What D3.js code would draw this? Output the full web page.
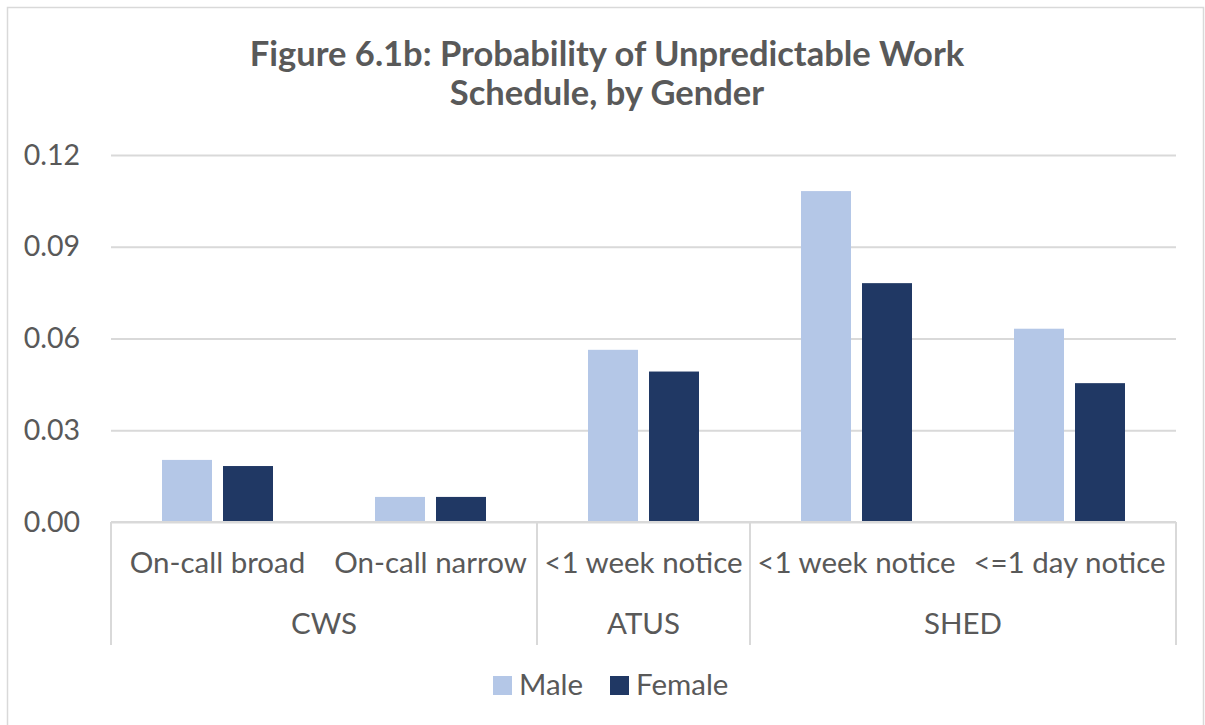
<!DOCTYPE html>
<html>
<head>
    <meta charset="utf-8">
    <script src="https://cdn.jsdelivr.net/npm/d3@7"></script>
    <title>Figure 6.1b</title>
    <style>
        body { margin: 0; background: #fff; }
        text { font-family: Lato, "Open Sans", sans-serif; fill: #595959; }
    </style>
</head>
<body>
    <div id="chart"></div>
    <script>
        // DATA
        var surveys = ["CWS", "CWS", "ATUS", "SHED", "SHED"];
        var measures = ["On-call broad", "On-call narrow", "<1 week notice", "<1 week notice", "<=1 day notice"];
        var series = ["Male", "Female"];
        var male = [0.0203, 0.0082, 0.0563, 0.1082, 0.0632];
        var female = [0.0183, 0.0082, 0.0492, 0.0781, 0.0454];
        var yTicks = [0, 0.03, 0.06, 0.09, 0.12];
        var titleLines = ["Figure 6.1b: Probability of Unpredictable Work", "Schedule, by Gender"];

        var colors = { Male: "#B4C7E7", Female: "#203864" };
        var gridColor = "#D9D9D9";

        var W = 1205, H = 725;
        var plot = { left: 111, right: 1176, top: 155, bottom: 522 };
        var labelSize = "29.5px";

        var svg = d3.select("#chart").append("svg")
            .attr("width", W)
            .attr("height", H);

        // chart area border
        svg.append("rect")
            .attr("x", 7.5).attr("y", 7.5)
            .attr("width", 1196).attr("height", 730)
            .attr("fill", "#fff")
            .attr("stroke", gridColor)
            .attr("stroke-width", 1.5);

        // title
        svg.selectAll(".title")
            .data(titleLines)
            .enter().append("text")
            .attr("class", "title")
            .attr("x", 607)
            .attr("y", function (d, i) { return 66 + i * 39; })
            .attr("text-anchor", "middle")
            .style("font-size", "34.5px")
            .style("font-weight", "bold")
            .text(function (d) { return d; });

        var rows = measures.map(function (m, i) {
            return { key: i, measure: m, survey: surveys[i], Male: male[i], Female: female[i] };
        });

        var x0 = d3.scaleBand()
            .domain(rows.map(function (d) { return d.key; }))
            .range([plot.left, plot.right]);

        var x1 = d3.scaleBand()
            .domain(series)
            .range([0, 111])
            .paddingInner(11 / 61);

        var y = d3.scaleLinear()
            .domain([0, 0.12])
            .range([plot.bottom, plot.top]);

        // gridlines + y labels
        var yAxis = d3.axisLeft(y)
            .tickValues(yTicks)
            .tickFormat(d3.format(".2f"))
            .tickSize(-(plot.right - plot.left))
            .tickPadding(31);

        var gy = svg.append("g")
            .attr("transform", "translate(" + plot.left + ",0)")
            .call(yAxis);
        gy.select(".domain").remove();
        gy.selectAll("line").attr("stroke", gridColor).attr("stroke-width", 2);
        gy.selectAll("text")
            .attr("fill", "#595959")
            .style("font-family", "Lato, sans-serif")
            .style("font-size", "28.5px");

        // bars
        var offset = (x0.bandwidth() - 111) / 2;
        var groups = svg.selectAll(".grp")
            .data(rows)
            .enter().append("g")
            .attr("transform", function (d) { return "translate(" + (x0(d.key) + offset) + ",0)"; });

        groups.selectAll("rect")
            .data(function (d) { return series.map(function (s) { return { s: s, v: d[s] }; }); })
            .enter().append("rect")
            .attr("x", function (d) { return x1(d.s); })
            .attr("width", x1.bandwidth())
            .attr("y", function (d) { return y(d.v); })
            .attr("height", function (d) { return y(0) - y(d.v); })
            .attr("fill", function (d) { return colors[d.s]; });

        // category axis (two levels)
        var axisBottom = 645;
        svg.append("line")
            .attr("x1", plot.left).attr("x2", plot.right)
            .attr("y1", y(0)).attr("y2", y(0))
            .attr("stroke", gridColor).attr("stroke-width", 2);

        var groupNames = [];
        surveys.forEach(function (s) { if (groupNames.indexOf(s) < 0) groupNames.push(s); });
        var groupSpans = groupNames.map(function (g) {
            var idx = rows.filter(function (r) { return r.survey === g; }).map(function (r) { return r.key; });
            return { name: g, x0: x0(d3.min(idx)), x1: x0(d3.max(idx)) + x0.bandwidth() };
        });

        var dividers = [plot.left].concat(groupSpans.map(function (g) { return g.x1; }));
        svg.selectAll(".divider")
            .data(dividers)
            .enter().append("line")
            .attr("x1", function (d) { return d; }).attr("x2", function (d) { return d; })
            .attr("y1", y(0)).attr("y2", axisBottom)
            .attr("stroke", gridColor).attr("stroke-width", 2);

        svg.selectAll(".measure")
            .data(rows)
            .enter().append("text")
            .attr("x", function (d) { return x0(d.key) + x0.bandwidth() / 2; })
            .attr("y", 573)
            .attr("text-anchor", "middle")
            .style("font-size", labelSize)
            .text(function (d) { return d.measure; });

        svg.selectAll(".survey")
            .data(groupSpans)
            .enter().append("text")
            .attr("x", function (d) { return (d.x0 + d.x1) / 2; })
            .attr("y", 634)
            .attr("text-anchor", "middle")
            .style("font-size", labelSize)
            .text(function (d) { return d.name; });

        // legend
        var legendX = [493, 610];
        var legend = svg.selectAll(".legend")
            .data(series)
            .enter().append("g")
            .attr("transform", function (d, i) { return "translate(" + legendX[i] + ",676)"; });
        legend.append("rect")
            .attr("width", 19).attr("height", 19)
            .attr("fill", function (d) { return colors[d]; });
        legend.append("text")
            .attr("x", 26).attr("y", 19)
            .style("font-size", labelSize)
            .text(function (d) { return d; });
    </script>
</body>
</html>
